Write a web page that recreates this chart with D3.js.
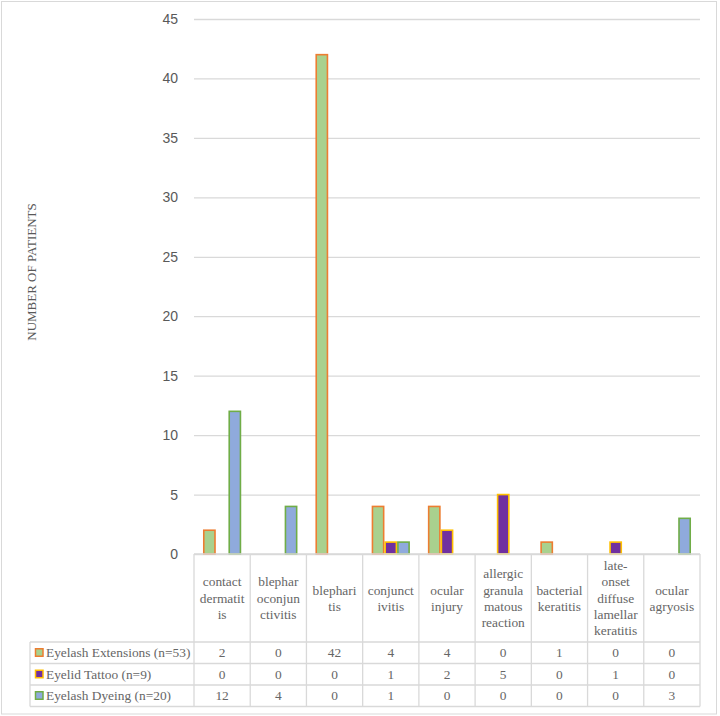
<!DOCTYPE html>
<html>
<head>
<meta charset="utf-8">
<script src="https://cdn.jsdelivr.net/npm/d3@7"></script>
<style>
  body { margin: 0; background: #fff; }
  svg { display: block; }
</style>
</head>
<body>
<div id="chart"></div>
<script>
// data
var categories = ["contact dermatitis", "blepharoconjunctivitis", "blepharitis", "conjunctivitis",
  "ocular injury", "allergic granulamatous reaction", "bacterial keratitis",
  "late-onset diffuse lamellar keratitis", "ocular agryosis"];
var headerLines = [["contact", "dermatit", "is"], ["blephar", "oconjun", "ctivitis"], ["blephari", "tis"],
  ["conjunct", "ivitis"], ["ocular", "injury"], ["allergic", "granula", "matous", "reaction"],
  ["bacterial", "keratitis"], ["late-", "onset", "diffuse", "lamellar", "keratitis"], ["ocular", "agryosis"]];
var seriesNames = ["Eyelash Extensions (n=53)", "Eyelid Tattoo (n=9)", "Eyelash Dyeing (n=20)"];
var extensions = [2, 0, 42, 4, 4, 0, 1, 0, 0];
var tattoo = [0, 0, 0, 1, 2, 5, 0, 1, 0];
var dyeing = [12, 4, 0, 1, 0, 0, 0, 0, 3];
var yTicks = [0, 5, 10, 15, 20, 25, 30, 35, 40, 45];

var seriesValues = [extensions, tattoo, dyeing];
var fills = ["#A9D18E", "#7030A0", "#8FAADC"];
var strokes = ["#ED7D31", "#FFC000", "#70AD47"];

var svgWidth = 720, svgHeight = 716;
var plot = {left: 194, right: 700, top: 19, bottom: 554};
var table = {legendLeft: 30, headerBottom: 642, rowH: 21.5};
var grid = "#D9D9D9", textCol = "#666666";

var svg = d3.select("#chart").append("svg")
  .attr("width", svgWidth)
  .attr("height", svgHeight);

// chart border
svg.append("rect")
  .attr("x", 1.5).attr("y", 1.5)
  .attr("width", 715).attr("height", 712.5)
  .attr("fill", "#fff")
  .attr("stroke", grid);

// scales
var x0 = d3.scaleBand()
  .domain(d3.range(categories.length))
  .range([plot.left, plot.right]);

var x1 = d3.scaleBand()
  .domain(d3.range(seriesNames.length))
  .range([0, x0.bandwidth()])
  .paddingOuter(0.71);

var y = d3.scaleLinear()
  .domain([0, 45])
  .range([plot.bottom, plot.top]);

// gridlines + tick labels
var yAxis = d3.axisLeft(y)
  .tickValues(yTicks)
  .tickSize(-(plot.right - plot.left))
  .tickPadding(16);

var yG = svg.append("g")
  .attr("transform", `translate(${plot.left},0)`)
  .call(yAxis);
yG.select(".domain").remove();
yG.selectAll(".tick line").attr("stroke", grid).attr("stroke-width", 1.3);
yG.selectAll(".tick text")
  .attr("fill", "#595959")
  .style("font-family", "'Liberation Sans', Arial, sans-serif")
  .style("font-size", "14px");

// axis title
svg.append("text")
  .attr("transform", "translate(36,272) rotate(-90)")
  .attr("text-anchor", "middle")
  .attr("fill", "#595959")
  .style("font-family", "'Liberation Serif', serif")
  .style("font-size", "13px")
  .text("NUMBER OF PATIENTS");

// bars
var groups = svg.selectAll(".cat")
  .data(categories)
  .enter()
  .append("g")
  .attr("class", "cat")
  .attr("transform", (d, i) => `translate(${x0(i)},0)`);

groups.selectAll("rect")
  .data((d, i) => seriesValues.map((s, k) => ({k: k, v: s[i]})).filter(e => e.v > 0))
  .enter()
  .append("rect")
  .attr("x", d => x1(d.k) + 0.75)
  .attr("y", d => y(d.v))
  .attr("width", x1.bandwidth() - 1.5)
  .attr("height", d => y(0) - y(d.v))
  .attr("fill", d => fills[d.k])
  .attr("stroke", d => strokes[d.k])
  .attr("stroke-width", 1.6);

// data table
var tg = svg.append("g");
var rowY = d => table.headerBottom + d * table.rowH;
var tableBottom = rowY(3);

// horizontal lines
tg.append("line").attr("x1", plot.left).attr("x2", plot.right)
  .attr("y1", plot.bottom).attr("y2", plot.bottom);
[0, 1, 2, 3].forEach(function (r) {
  tg.append("line").attr("x1", table.legendLeft).attr("x2", plot.right)
    .attr("y1", rowY(r)).attr("y2", rowY(r));
});
// vertical lines
tg.append("line").attr("x1", table.legendLeft).attr("x2", table.legendLeft)
  .attr("y1", table.headerBottom).attr("y2", tableBottom);
d3.range(categories.length + 1).forEach(function (i) {
  var xx = i < categories.length ? x0(i) : plot.right;
  tg.append("line").attr("x1", xx).attr("x2", xx)
    .attr("y1", plot.bottom).attr("y2", tableBottom);
});
tg.selectAll("line").attr("stroke", grid).attr("stroke-width", 1.3);

var serif = "'Liberation Serif', 'Times New Roman', serif";
var fs = "13.4px";

// header labels
var lineH = 16.3;
categories.forEach(function (c, i) {
  var lines = headerLines[i];
  var cy = (plot.bottom + table.headerBottom) / 2;
  var t = svg.append("text")
    .attr("text-anchor", "middle")
    .attr("fill", textCol)
    .style("font-family", serif)
    .style("font-size", fs);
  lines.forEach(function (ln, j) {
    t.append("tspan")
      .attr("x", x0(i) + x0.bandwidth() / 2)
      .attr("y", cy + (j - (lines.length - 1) / 2) * lineH)
      .attr("dy", "0.35em")
      .text(ln);
  });
});

// legend rows + values
seriesNames.forEach(function (name, k) {
  var cy = rowY(k) + table.rowH / 2;
  svg.append("rect")
    .attr("x", 35.5).attr("y", cy - 4)
    .attr("width", 7.5).attr("height", 7.5)
    .attr("fill", fills[k])
    .attr("stroke", strokes[k])
    .attr("stroke-width", 1.5);
  svg.append("text")
    .attr("x", 46).attr("y", cy)
    .attr("dy", "0.35em")
    .attr("fill", textCol)
    .style("font-family", serif)
    .style("font-size", fs)
    .text(name);
  seriesValues[k].forEach(function (v, i) {
    svg.append("text")
      .attr("x", x0(i) + x0.bandwidth() / 2)
      .attr("y", cy)
      .attr("dy", "0.35em")
      .attr("text-anchor", "middle")
      .attr("fill", textCol)
      .style("font-family", serif)
      .style("font-size", fs)
      .text(v);
  });
});
</script>
</body>
</html>
